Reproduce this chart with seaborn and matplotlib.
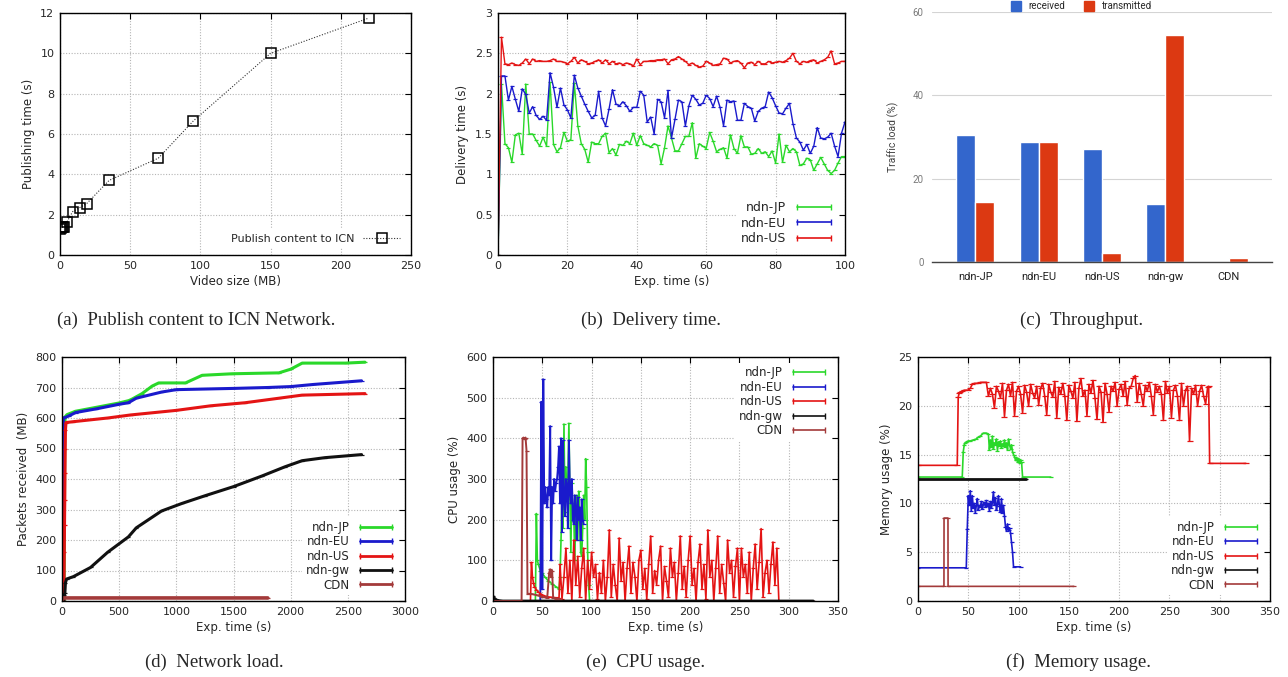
import numpy as np
import pandas as pd
import matplotlib.pyplot as plt
import seaborn as sns
from matplotlib.lines import Line2D
from matplotlib.ticker import FormatStrFormatter

# --- 1. Data ---
# (a) publishing time vs. video size
video_size = [0.2, 0.6, 1.2, 2.0, 3.0, 5.0, 9.0, 14.0, 19.0, 35.0, 70.0, 95.0, 150.0, 220.0]
publish_time = [1.30, 1.36, 1.40, 1.37, 1.40, 1.65, 2.15, 2.35, 2.55, 3.70, 4.80, 6.65, 10.00, 11.75]

# (b) delivery time, one sample per second
delivery_t = list(range(101))
jp_delivery = [0, 2.12, 1.38, 1.33, 1.15, 1.49, 1.51, 1.25, 2.12, 1.50,
               1.50, 1.42, 1.35, 1.46, 1.35, 2.14, 1.37, 1.28, 1.33, 1.52,
               1.41, 1.43, 2.13, 1.60, 1.38, 1.31, 1.15, 1.40, 1.38, 1.38,
               1.47, 1.51, 1.27, 1.32, 1.24, 1.37, 1.36, 1.41, 1.38, 1.51,
               1.36, 1.48, 1.38, 1.36, 1.34, 1.38, 1.36, 1.13, 1.33, 1.60,
               1.45, 1.29, 1.29, 1.38, 1.47, 1.47, 1.64, 1.20, 1.38, 1.35,
               1.32, 1.52, 1.41, 1.28, 1.31, 1.33, 1.20, 1.49, 1.32, 1.26,
               1.48, 1.34, 1.34, 1.25, 1.26, 1.32, 1.26, 1.28, 1.22, 1.29,
               1.14, 1.50, 1.15, 1.36, 1.28, 1.32, 1.28, 1.11, 1.13, 1.20,
               1.18, 1.05, 1.13, 1.21, 1.13, 1.05, 1.01, 1.05, 1.14, 1.22,
               1.22]
eu_delivery = [0, 2.22, 2.22, 1.92, 2.09, 1.93, 1.78, 2.06, 1.99, 1.76,
               1.84, 1.73, 1.68, 1.72, 1.67, 2.26, 2.08, 1.83, 2.07, 1.86,
               1.80, 1.70, 2.23, 2.07, 1.97, 1.87, 1.78, 1.70, 1.73, 2.03,
               1.70, 1.60, 1.81, 2.05, 1.87, 1.85, 1.90, 1.85, 1.78, 1.83,
               1.83, 2.03, 1.98, 1.65, 1.71, 1.50, 1.93, 1.90, 1.70, 2.04,
               1.45, 1.68, 1.92, 1.90, 1.60, 1.85, 1.98, 1.93, 1.86, 1.88,
               1.98, 1.94, 1.84, 1.97, 1.83, 1.60, 1.92, 1.90, 1.91, 1.67,
               1.67, 1.88, 1.84, 1.82, 1.66, 1.78, 1.82, 1.84, 2.02, 1.95,
               1.85, 1.76, 1.75, 1.82, 1.88, 1.63, 1.45, 1.40, 1.30, 1.37,
               1.26, 1.35, 1.58, 1.45, 1.44, 1.46, 1.51, 1.35, 1.22, 1.51,
               1.65]
us_delivery = [0, 2.70, 2.37, 2.36, 2.38, 2.36, 2.35, 2.38, 2.43, 2.37,
               2.43, 2.40, 2.41, 2.40, 2.40, 2.41, 2.43, 2.40, 2.40, 2.39,
               2.37, 2.40, 2.45, 2.38, 2.42, 2.40, 2.37, 2.38, 2.40, 2.42,
               2.38, 2.42, 2.37, 2.40, 2.37, 2.38, 2.36, 2.38, 2.37, 2.34,
               2.43, 2.36, 2.40, 2.40, 2.41, 2.41, 2.42, 2.42, 2.43, 2.37,
               2.42, 2.43, 2.46, 2.43, 2.40, 2.36, 2.38, 2.35, 2.33, 2.34,
               2.40, 2.38, 2.35, 2.36, 2.37, 2.44, 2.43, 2.38, 2.40, 2.41,
               2.38, 2.32, 2.38, 2.39, 2.36, 2.40, 2.37, 2.37, 2.40, 2.38,
               2.39, 2.40, 2.39, 2.41, 2.44, 2.50, 2.40, 2.37, 2.40, 2.39,
               2.41, 2.42, 2.38, 2.40, 2.42, 2.45, 2.53, 2.37, 2.38, 2.40,
               2.40]

# (c) throughput
nodes = ['ndn-JP', 'ndn-EU', 'ndn-US', 'ndn-gw', 'CDN']
received = [30.5, 28.7, 27.1, 14.0, 0.0]
transmitted = [14.5, 28.9, 2.2, 54.5, 1.0]

# (d) network load (cumulative MB)
jp_net_t = [18, 25, 30, 44, 117, 300, 496, 584, 613, 700, 790, 846, 1080, 1226, 1488, 1897, 2000, 2101, 2481, 2650]
jp_net_v = [0, 590, 605, 611, 622, 635, 649, 657, 662, 680, 705, 715, 715, 740, 745, 748, 760, 780, 780, 783]
eu_net_t = [8, 12, 30, 60, 120, 300, 500, 580, 650, 870, 1000, 1500, 1800, 2000, 2200, 2620]
eu_net_v = [0, 600, 602, 607, 618, 630, 645, 650, 665, 685, 693, 697, 700, 703, 710, 722]
us_net_t = [15, 18, 20, 22, 24, 26, 28, 30, 35, 100, 400, 600, 1000, 1300, 1600, 1900, 2100, 2650]
us_net_v = [0, 70, 160, 250, 330, 420, 500, 560, 585, 588, 600, 610, 625, 640, 650, 665, 675, 680]
gw_net_t = [15, 20, 25, 30, 40, 100, 250, 400, 580, 650, 870, 1050, 1250, 1500, 1750, 1950, 2100, 2300, 2620]
gw_net_v = [0, 20, 25, 60, 72, 80, 110, 160, 210, 240, 295, 320, 345, 375, 410, 440, 460, 470, 480]
cdn_net_t = [0, 10, 1800]
cdn_net_v = [0, 10, 10]

# (e) CPU usage (%)
jp_cpu_t = [0, 43, 44, 45, 46, 48, 50, 53, 56, 60, 64, 67, 68, 69, 70, 71, 72, 73, 74, 75,
            76, 77, 78, 79, 80, 81, 82, 83, 84, 85, 86, 87, 88, 89, 90, 91, 92, 93, 94, 95,
            96, 97, 98, 100]
jp_cpu_v = [0, 0, 215, 100, 90, 75, 68, 58, 50, 42, 35, 30, 60, 150, 260, 180, 435, 220, 330, 250,
            300, 437, 260, 120, 290, 230, 200, 100, 230, 260, 150, 270, 200, 120, 110, 180, 260, 200, 350, 280,
            120, 40, 0, 0]
eu_cpu_t = [0, 48] + list(range(49, 93))
eu_cpu_v = [0, 0, 490, 30, 545, 240, 280, 250, 230, 280,
            260, 430, 100, 280, 240, 300, 270, 290, 300, 330,
            380, 240, 400, 170, 395, 250, 210, 300, 280, 180,
            395, 270, 240, 300, 200, 190, 260, 230, 150, 255,
            200, 230, 150, 250, 200, 190]
us_cpu_head_t = [0, 38, 39, 40, 41, 42, 44, 46, 48, 50, 53, 56, 60, 64, 67]
us_cpu_head_v = [0, 0, 95, 60, 45, 35, 28, 22, 18, 15, 12, 10, 9, 8, 8]
us_cpu_noise_t = list(range(68, 291, 2))
us_cpu_noise_v = [90, 5, 60, 130, 20, 100, 0, 150, 40, 110,
                  10, 80, 130, 0, 100, 30, 120, 60, 90, 5,
                  70, 20, 100, 0, 60, 175, 10, 90, 40, 0,
                  155, 50, 95, 0, 80, 135, 20, 95, 60, 0,
                  100, 125, 30, 80, 5, 90, 160, 20, 75, 40,
                  100, 135, 0, 85, 50, 10, 130, 60, 95, 0,
                  70, 160, 30, 85, 10, 100, 160, 40, 80, 0,
                  95, 140, 30, 90, 5, 175, 60, 100, 0, 80,
                  160, 20, 90, 45, 0, 150, 70, 100, 10, 85,
                  130, 0, 130, 60, 90, 20, 120, 0, 80, 140,
                  30, 95, 178, 10, 70, 100, 20, 90, 145, 40,
                  130, 0]
us_cpu_tail_t = [292, 325]
us_cpu_tail_v = [0, 0]
gw_cpu_t = [0, 1, 3, 6, 10, 325]
gw_cpu_v = [12, 8, 3, 1, 0, 0]
cdn_cpu_t = [0, 29, 30, 31, 32, 33, 34, 35, 40, 45, 50, 55, 57, 58, 59, 60, 61, 64, 68]
cdn_cpu_v = [0, 0, 400, 402, 398, 402, 370, 18, 17, 14, 10, 8, 70, 78, 60, 75, 8, 6, 5]

# (f) memory usage (%)
jp_mem_t = [0, 44, 45, 46, 47, 48, 50, 52, 55, 58, 60, 62, 65, 66, 68, 70] + list(range(71, 105)) + [132]
jp_mem_v = [12.7, 12.7, 15.3, 16.0, 16.2, 16.3, 16.4, 16.4, 16.5, 16.6, 16.8, 16.9, 17.2, 17.2, 17.2, 17.1,
            15.5, 16.5, 15.8, 16.9, 15.6, 16.2, 16.0, 16.6, 15.4, 16.3,
            15.9, 16.4, 15.7, 16.1, 15.9, 16.5, 15.8, 16.2, 15.5, 16.6,
            16.0, 15.6, 16.0, 15.3, 15.0, 14.8, 14.4, 14.7, 14.2, 14.6,
            14.1, 14.4, 14.2, 12.7, 12.7]
eu_mem_t = [0, 48] + list(range(49, 96)) + [102]
eu_mem_v = [3.4, 3.4, 7.4, 10.8, 9.8, 11.3, 9.2, 10.8, 9.5, 10.0, 9.0, 9.8,
            10.5, 9.3, 9.8, 9.6, 10.2, 9.4, 9.9, 10.1, 9.6, 10.3,
            9.7, 10.0, 9.2, 10.2, 9.5, 10.1, 11.2, 9.8, 10.6, 9.3,
            9.9, 10.8, 9.7, 9.1, 10.5, 9.0, 9.8, 8.7, 7.6, 7.2,
            7.9, 7.3, 7.5, 7.0, 6.0, 5.0, 3.5, 3.5]
us_mem_head_t = [0, 39, 40, 41, 42, 44, 46, 50, 52, 54, 56, 60, 62, 66, 68]
us_mem_head_v = [13.9, 13.9, 20.9, 21.3, 21.4, 21.5, 21.6, 21.6, 21.8, 22.2, 22.3, 22.3, 22.4, 22.4, 22.4]
us_mem_noise_t = list(range(70, 289, 2))
us_mem_noise_v = [21.0, 21.8, 21.2, 19.8, 22.0, 21.5, 20.8, 22.3, 18.9, 21.6,
                  22.2, 21.0, 22.4, 19.0, 21.5, 22.0, 21.2, 19.3, 22.1, 21.4,
                  20.0, 22.2, 21.3, 20.8, 22.0, 20.1, 21.8, 22.3, 21.0, 19.1,
                  22.2, 21.4, 20.9, 22.5, 18.8, 21.9, 21.2, 22.3, 21.0, 18.5,
                  22.1, 21.5, 20.8, 22.4, 18.4, 21.8, 22.8, 21.0, 21.6, 19.0,
                  22.2, 21.3, 22.6, 20.8, 18.6, 22.0, 21.4, 18.3, 22.3, 21.2,
                  19.4, 22.0, 21.5, 22.4, 20.0, 21.7, 22.2, 21.0, 22.5, 20.1,
                  21.8, 22.0, 22.8, 23.1, 20.4, 22.3, 21.2, 20.0, 22.1, 21.5,
                  22.4, 21.0, 19.1, 22.2, 21.4, 22.0, 21.2, 18.5, 22.5, 21.3,
                  22.0, 18.8, 21.6, 22.1, 21.0, 18.5, 22.3, 20.0, 21.6, 22.0,
                  16.4, 21.8, 21.2, 22.1, 20.0, 21.5, 22.1, 21.0, 20.2, 21.9]
us_mem_tail_t = [289, 290, 326]
us_mem_tail_v = [22.0, 14.1, 14.1]
gw_mem_t = [0, 107]
gw_mem_v = [12.5, 12.5]
cdn_mem_t = [0, 25.8, 25.9, 29.8, 29.9, 155]
cdn_mem_v = [1.5, 1.5, 8.5, 8.5, 1.5, 1.5]

series_names = ['ndn-JP', 'ndn-EU', 'ndn-US', 'ndn-gw', 'CDN']
C_JP, C_EU, C_US, C_GW, C_CDN = '#2ad82a', '#1a1acc', '#e41414', '#111111', '#a33a3a'
series_colors = [C_JP, C_EU, C_US, C_GW, C_CDN]

# --- 2. Helpers ---
sns.set_style("white")
plt.rcParams['font.family'] = ['DejaVu Sans']

W, H = 1288, 677


def box(l, t, r, b):
    return [l / W, 1 - b / H, (r - l) / W, (b - t) / H]


def gp_axes(ax, xlim, ylim, xticks, yticks, xlabel, ylabel):
    ax.set_xlim(*xlim)
    ax.set_ylim(*ylim)
    ax.set_xticks(xticks)
    ax.set_yticks(yticks)
    ax.yaxis.set_major_formatter(FormatStrFormatter('%g'))
    ax.tick_params(direction='in', top=True, right=True, length=4, width=0.8,
                   labelsize=8, pad=4, color='black')
    ax.grid(True, color='#b5b5b5', linestyle=(0, (1, 1.5)), linewidth=0.8)
    for s in ax.spines.values():
        s.set_visible(True)
        s.set_color('black')
        s.set_linewidth(1.0)
    ax.set_xlabel(xlabel, fontsize=8.5, labelpad=3)
    ax.set_ylabel(ylabel, fontsize=8.5, labelpad=4)


def draw(ax, t, v, color, lw=1.0, ms=3):
    df = pd.DataFrame({'t': t, 'v': v})
    sns.lineplot(data=df, x='t', y='v', ax=ax, color=color, linewidth=lw,
                 estimator=None, sort=False, marker='_', markersize=ms,
                 markeredgewidth=0.9, markeredgecolor=color, legend=False)


def gp_legend(ax, names, colors, loc, fontsize=8.5, lw=1.2, spacing=0.12):
    handles = [Line2D([0, 1], [0, 0], color=c, lw=lw, marker='|', ms=5, mew=1.0)
               for c in colors]
    leg = ax.legend(handles, names, loc=loc, markerfirst=False, numpoints=2,
                    fontsize=fontsize, frameon=True, fancybox=False, framealpha=1,
                    edgecolor='white', facecolor='white', handlelength=3.3,
                    handletextpad=0.6, labelspacing=spacing, borderpad=0.3,
                    borderaxespad=0.5)
    leg.get_frame().set_linewidth(0)
    return leg


fig = plt.figure(figsize=(W / 100, H / 100), dpi=100)

# --- 3. (a) Publish content ---
ax_a = fig.add_axes(box(60, 13, 411, 255))
pub = pd.DataFrame({'size': video_size, 'time': publish_time})
sns.lineplot(data=pub, x='size', y='time', ax=ax_a, color='#333333', linewidth=0.8,
             linestyle=(0, (1, 1.5)), marker='s', markersize=7, markerfacecolor='none',
             markeredgecolor='black', markeredgewidth=1.1, estimator=None, sort=False)
gp_axes(ax_a, (0, 250), (0, 12), range(0, 251, 50), range(0, 13, 2),
        'Video size (MB)', 'Publishing time (s)')
h = Line2D([0], [0], color='#333333', lw=0.8, ls=(0, (1, 1.5)), marker='s',
           mfc='none', mec='black', ms=7, mew=1.1)
leg = ax_a.legend([h], ['Publish content to ICN'], loc='lower right', markerfirst=False,
                  numpoints=1, fontsize=8, frameon=True, fancybox=False, framealpha=1,
                  edgecolor='white', handlelength=3.3, borderaxespad=0.6)
leg.get_frame().set_linewidth(0)

# --- 4. (b) Delivery time ---
ax_b = fig.add_axes(box(498, 13, 845, 255))
for vals, col in zip([jp_delivery, eu_delivery, us_delivery], [C_JP, C_EU, C_US]):
    draw(ax_b, delivery_t, vals, col, lw=1.0, ms=3)
gp_axes(ax_b, (0, 100), (0, 3), range(0, 101, 20), np.arange(0, 3.01, 0.5),
        'Exp. time (s)', 'Delivery time (s)')
gp_legend(ax_b, series_names[:3], series_colors[:3], 'lower right', fontsize=9, spacing=0.18)

# --- 5. (c) Throughput ---
ax_c = fig.add_axes(box(932, 12, 1272, 262))
thr = pd.DataFrame({'node': nodes * 2,
                    'dir': ['received'] * 5 + ['transmitted'] * 5,
                    'load': received + transmitted})
sns.barplot(data=thr, x='node', y='load', hue='dir', palette=['#3366cc', '#dc3912'],
            width=0.6, saturation=1, ax=ax_c, legend=False)
ax_c.set_xlim(-0.68, 4.68)
ax_c.set_ylim(0, 60)
ax_c.set_yticks([0, 20, 40, 60])
ax_c.grid(True, axis='y', color='#d4d4d4', linewidth=0.8)
ax_c.set_axisbelow(True)
for side in ['top', 'right', 'left']:
    ax_c.spines[side].set_visible(False)
ax_c.spines['bottom'].set_color('#444444')
ax_c.spines['bottom'].set_linewidth(1.0)
ax_c.tick_params(axis='both', length=0)
ax_c.tick_params(axis='y', labelsize=7, labelcolor='#7a7a7a', pad=6)
ax_c.tick_params(axis='x', labelsize=8, labelcolor='#222222', pad=7)
for lab in ax_c.get_xticklabels() + ax_c.get_yticklabels():
    lab.set_fontfamily('Roboto')
ax_c.set_xlabel('')
ax_c.set_ylabel('Traffic load (%)', fontsize=7.5, color='#444444', family='Roboto', labelpad=10)
hs = [Line2D([0], [0], marker='s', ls='none', ms=7, color=c) for c in ['#3366cc', '#dc3912']]
ax_c.legend(hs, ['received', 'transmitted'], loc='center', ncol=2, frameon=False,
            bbox_to_anchor=(1079 / W, 1 - 6 / H), bbox_transform=fig.transFigure,
            prop={'family': 'Roboto', 'size': 7}, handletextpad=0.3, columnspacing=1.4)

# --- 6. (d) Network load ---
ax_d = fig.add_axes(box(62, 357, 405, 601))
draw(ax_d, jp_net_t, jp_net_v, C_JP, lw=2.2, ms=3)
draw(ax_d, eu_net_t, eu_net_v, C_EU, lw=2.2, ms=3)
draw(ax_d, us_net_t, us_net_v, C_US, lw=2.2, ms=3)
draw(ax_d, gw_net_t, gw_net_v, C_GW, lw=2.2, ms=3)
draw(ax_d, cdn_net_t, cdn_net_v, C_CDN, lw=2.6, ms=3)
gp_axes(ax_d, (0, 3000), (0, 800), range(0, 3001, 500), range(0, 801, 100),
        'Exp. time (s)', 'Packets received  (MB)')
gp_legend(ax_d, series_names, series_colors, 'lower right', lw=2.0)

# --- 7. (e) CPU usage ---
ax_e = fig.add_axes(box(493, 357, 838, 601))
draw(ax_e, jp_cpu_t, jp_cpu_v, C_JP, lw=1.2, ms=3)
draw(ax_e, eu_cpu_t, eu_cpu_v, C_EU, lw=1.4, ms=3)
draw(ax_e, us_cpu_head_t + us_cpu_noise_t + us_cpu_tail_t,
     us_cpu_head_v + us_cpu_noise_v + us_cpu_tail_v, C_US, lw=1.2, ms=3)
draw(ax_e, gw_cpu_t, gw_cpu_v, C_GW, lw=2.0, ms=3)
draw(ax_e, cdn_cpu_t, cdn_cpu_v, C_CDN, lw=1.4, ms=3)
gp_axes(ax_e, (0, 350), (0, 600), range(0, 351, 50), range(0, 601, 100),
        'Exp. time (s)', 'CPU usage (%)')
gp_legend(ax_e, series_names, series_colors, 'upper right')

# --- 8. (f) Memory usage ---
ax_f = fig.add_axes(box(918, 357, 1270, 601))
draw(ax_f, jp_mem_t, jp_mem_v, C_JP, lw=1.2, ms=3)
draw(ax_f, eu_mem_t, eu_mem_v, C_EU, lw=1.2, ms=3)
draw(ax_f, us_mem_head_t + us_mem_noise_t + us_mem_tail_t,
     us_mem_head_v + us_mem_noise_v + us_mem_tail_v, C_US, lw=1.2, ms=4)
draw(ax_f, gw_mem_t, gw_mem_v, C_GW, lw=2.0, ms=3)
draw(ax_f, cdn_mem_t, cdn_mem_v, C_CDN, lw=1.2, ms=3)
gp_axes(ax_f, (0, 350), (0, 25), range(0, 351, 50), range(0, 26, 5),
        'Exp. time (s)', 'Memory usage (%)')
gp_legend(ax_f, series_names, series_colors, 'lower right')

# --- 9. Captions ---
caps = [('(a)  Publish content to ICN Network.', 196, 320),
        ('(b)  Delivery time.', 651, 320),
        ('(c)  Throughput.', 1082, 320),
        ('(d)  Network load.', 214, 662),
        ('(e)  CPU usage.', 646, 662),
        ('(f)  Memory usage.', 1078, 662)]
for txt, x, y in caps:
    fig.text(x / W, 1 - y / H, txt, ha='center', va='center',
             family='Liberation Serif', fontsize=13.5)

fig.savefig('out.png', dpi=100)
print('saved out.png')
